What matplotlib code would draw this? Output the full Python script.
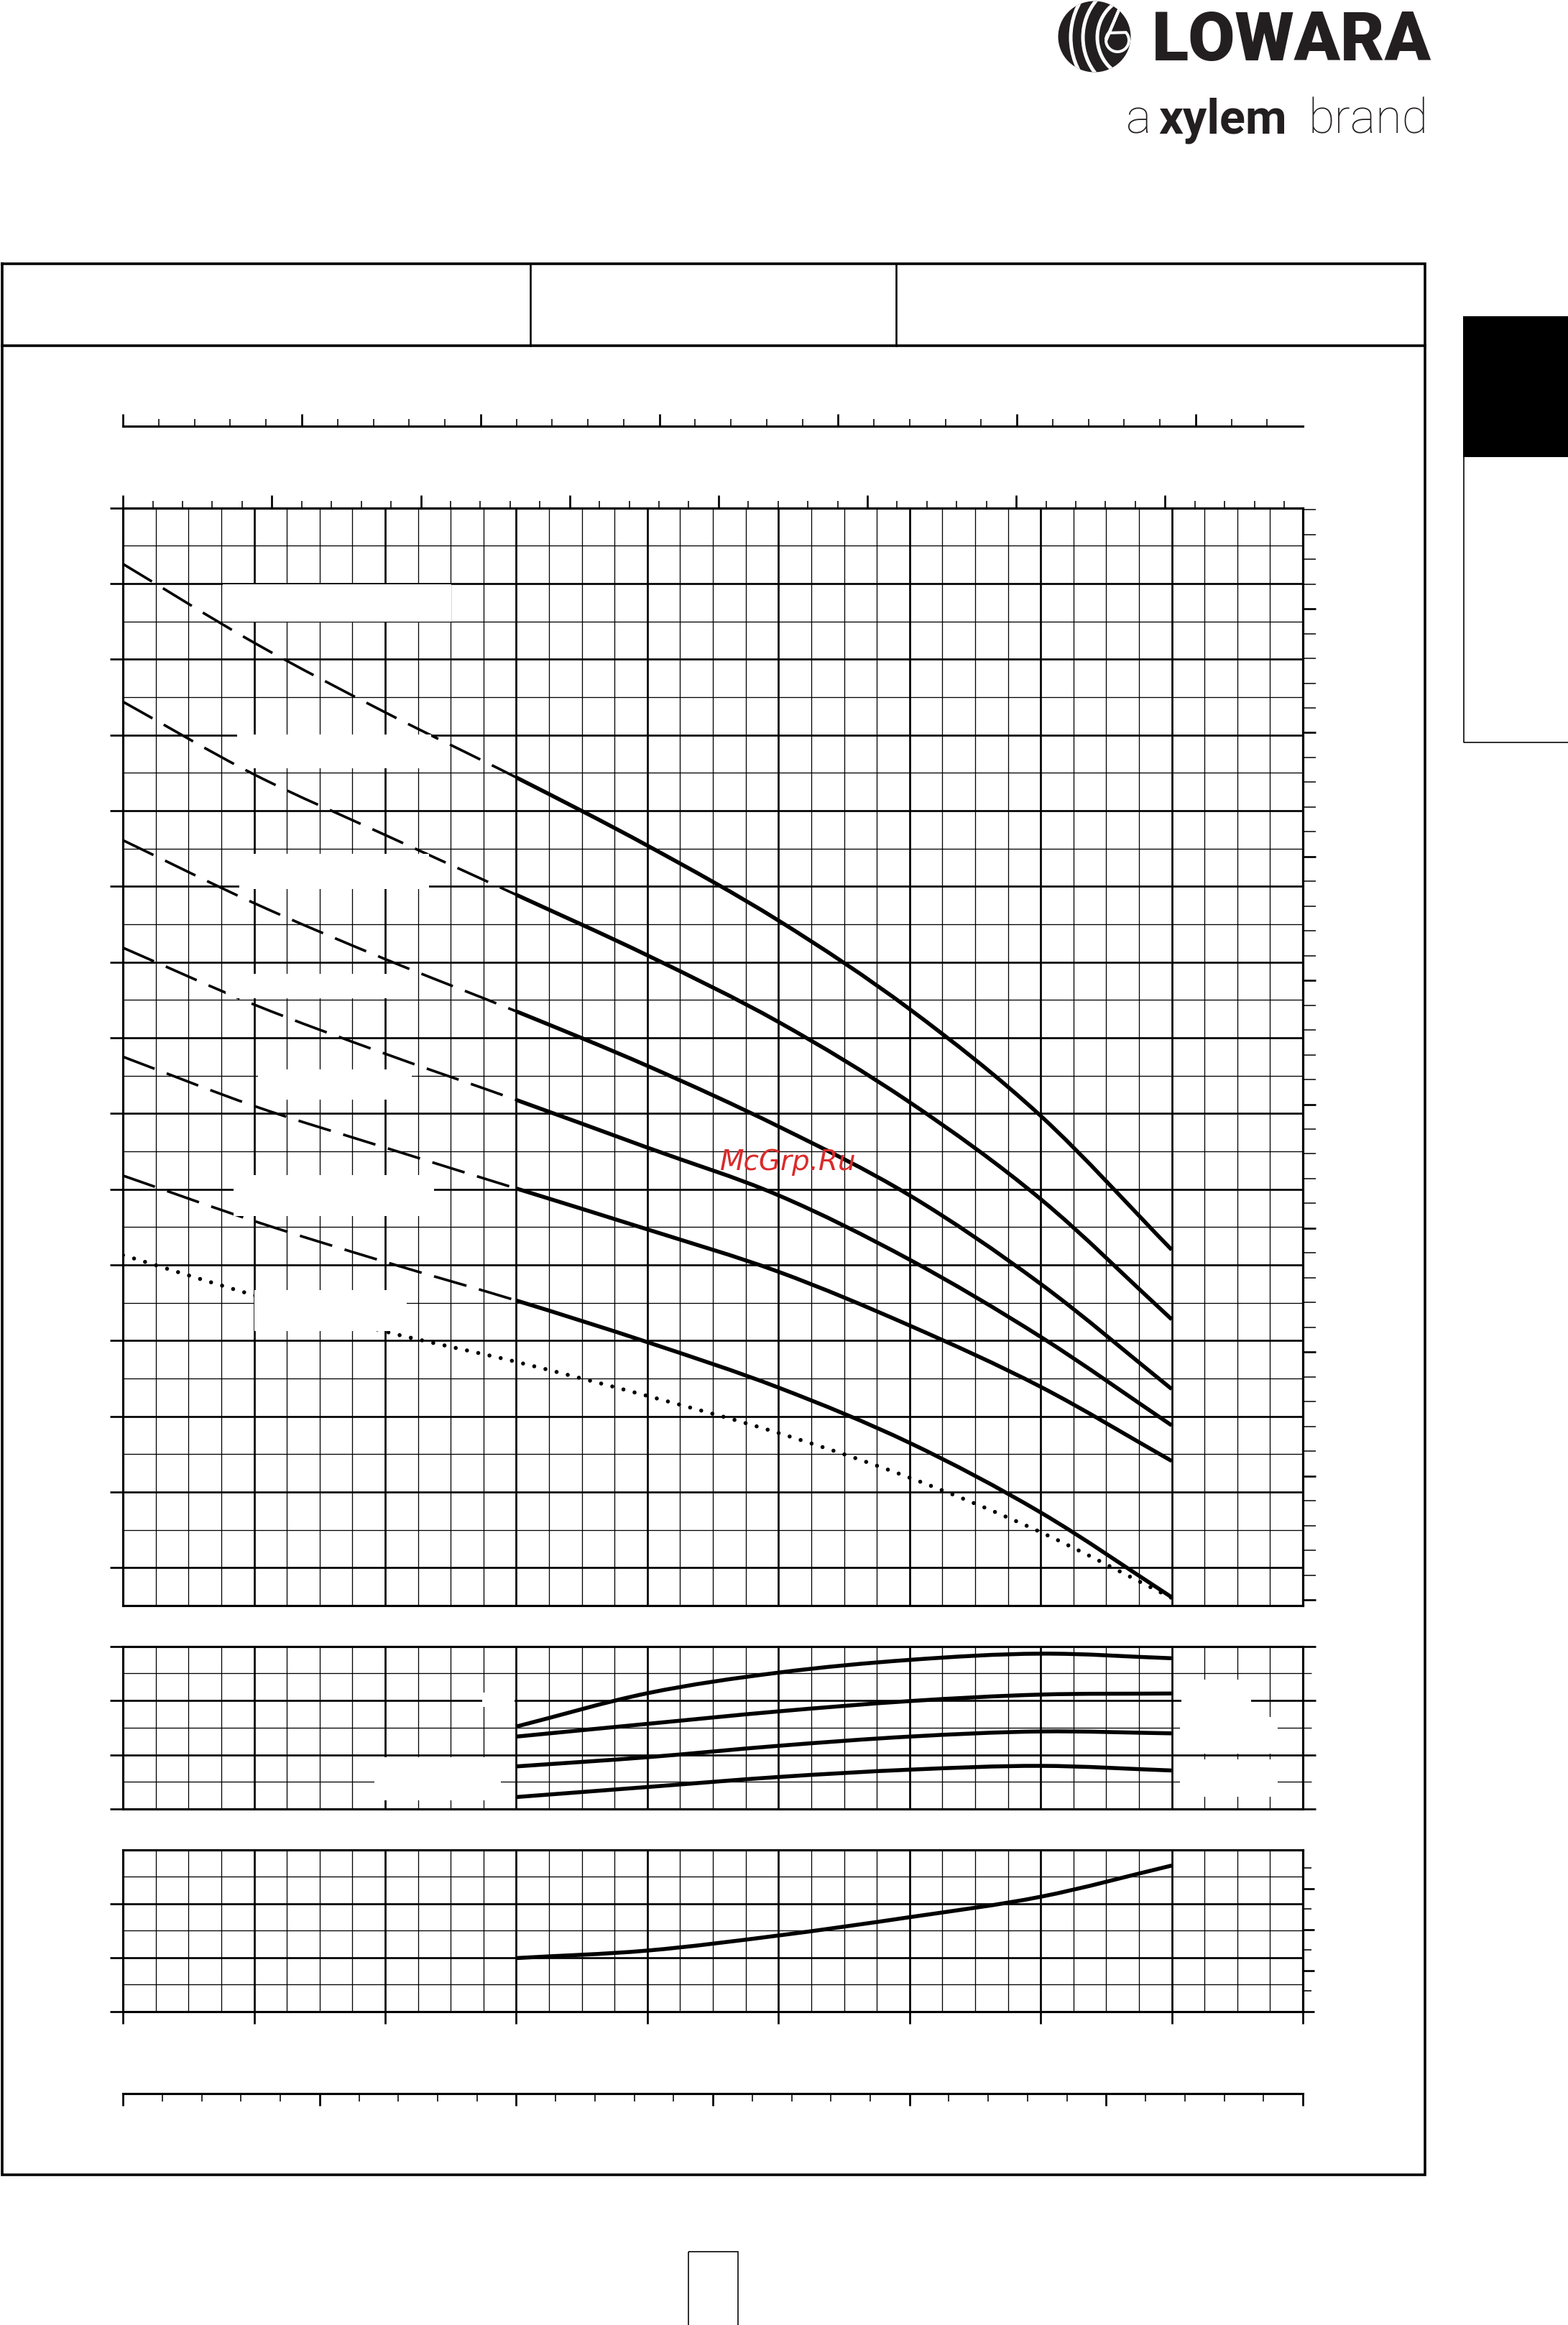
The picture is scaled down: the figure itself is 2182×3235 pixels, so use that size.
import numpy as np
import matplotlib
matplotlib.use("Agg")
import matplotlib.pyplot as plt
from matplotlib.patches import Rectangle, Ellipse, Arc, Polygon, PathPatch
from matplotlib.path import Path
from matplotlib.ticker import MultipleLocator, FixedLocator

W, H, DPI = 2182, 3235, 200
PX = 72 / DPI                      # one output pixel, in points
plt.rcParams["lines.scale_dashes"] = False

# ---------------------------------------------------------------------------
# data
# ---------------------------------------------------------------------------
Q = [0, 1, 2, 3, 4, 5, 6, 7, 8]          # flow, m3/h
SOLID_FROM = 3                           # index: curves are dashed left of Q=3

# head curves (ft), top to bottom
HEAD = [
    [137.6, 127.2, 118.0, 109.4, 100.4, 90.5, 78.8, 64.7, 47.0],
    [119.4, 109.8, 101.8, 93.9, 85.9, 77.1, 66.5, 53.7, 37.8],
    [101.1, 92.8, 85.4, 78.5, 71.3, 63.3, 54.2, 42.5, 28.6],
    [86.9, 79.4, 72.9, 66.8, 60.5, 54.2, 45.7, 35.5, 23.8],
    [72.5, 66.0, 60.5, 55.1, 49.7, 44.1, 37.0, 28.9, 19.1],
    [56.8, 50.8, 45.4, 40.3, 34.8, 28.8, 21.5, 12.3, 1.1],
]
NPSH = [46.3, 41.0, 36.2, 32.2, 27.7, 22.8, 16.9, 9.7, 1.0]   # dotted

Q_OP = [3, 4, 5, 6, 7, 8]
EFF = [
    [30.4, 42.7, 50.3, 55.0, 57.3, 55.6],
    [26.7, 31.4, 36.0, 39.8, 42.2, 42.6],
    [15.7, 19.1, 23.3, 26.7, 28.6, 27.9],
    [4.4, 8.1, 11.8, 14.5, 15.9, 14.2],
]
POWER = [0.99, 1.13, 1.41, 1.75, 2.13, 2.71]      # kW

# unit conversions of the secondary scales
M3H_PER_USGPM = 0.22712
M3H_PER_IMPGPM = 0.27277
M3H_PER_LMIN = 0.06
FT_PER_M, M_ZERO_FT = 3.273, 0.76
KW_PER_HP = 0.76

# white patches left where the curve labels were removed (data coords)
MAIN_MASKS = [(0.763, 2.504, 130.0, 134.9), (0.868, 2.349, 110.6, 115.1),
              (0.887, 2.332, 94.7, 99.3), (0.783, 2.192, 80.2, 83.5),
              (1.028, 2.203, 66.8, 70.8), (0.843, 2.373, 51.5, 56.9),
              (1.002, 2.164, 36.3, 41.7)]
EFF_MASKS = [(8.075, 8.605, 20.5, 47.6), (8.064, 8.807, 20.5, 34.0),
             (8.064, 8.807, 4.5, 18.2), (1.92, 2.88, 3.2, 19.1),
             (2.74, 2.985, 37.6, 42.9)]

# ---------------------------------------------------------------------------
# layout (output pixels)
# ---------------------------------------------------------------------------
AX_L, AX_R = 171.2, 1813.0
MAIN_T, MAIN_B = 706.8, 2234.0
EFF_T, EFF_B = 2290.7, 2517.0
POW_T, POW_B = 2574.0, 2798.6
IMP_Y, LMIN_Y = 593.5, 2913.0

THIN, THICK, SPINE = 1.3 * PX, 2.7 * PX, 3.1 * PX
CURVE_LW = 5.5 * PX

fig = plt.figure(figsize=(W / DPI, H / DPI), dpi=DPI)
fig.patch.set_facecolor("white")

# page furniture in pixel coordinates
page = fig.add_axes([0, 0, 1, 1])
page.set_xlim(0, W)
page.set_ylim(H, 0)
page.axis("off")
page.set_zorder(-1)

lw_frame = 3.6 * PX
page.plot([3, 1983, 1983, 3, 3], [367, 367, 3026, 3026, 367], color="k",
          lw=lw_frame, solid_joinstyle="miter")
page.plot([3, 1983], [481, 481], color="k", lw=lw_frame)
for xd in (737.5, 1247):
    page.plot([xd, xd], [367, 481], color="k", lw=2.6 * PX)
page.add_patch(Rectangle((2036, 440), W - 2036, 196, color="k", lw=0))
page.plot([2036.5, 2036.5, W], [636, 1033, 1033], color="k", lw=1.6 * PX)
page.add_patch(Rectangle((958, 3133), 69, 120, fill=False, ec="k", lw=1.6 * PX))

# logo mark
badge = Ellipse((1523, 51), 101, 99, color="#231f20", lw=0)
page.add_patch(badge)
for r in (91, 74, 54):
    a = Arc((1581, 52), 2 * r, 2 * r * 1.05, theta1=95, theta2=265,
            color="white", lw=5.0 * PX)
    page.add_patch(a)
    a.set_clip_path(badge)
t = np.linspace(0, 2 * np.pi, 60)
drop = [(1555 + 16 * np.cos(a), 56 + 16 * np.sin(a)) for a in t
        if not (np.pi * 1.25 < a < np.pi * 1.75)]
drop = drop[:len(drop) // 2 + 8] + [(1557, 14)] + drop[len(drop) // 2 + 8:]
page.add_patch(Polygon(drop, closed=True, fc="#231f20", ec="white", lw=4 * PX))

fig.text(1603 / W, 1 - 84 / H, "LOWARA", fontsize=34, family="Roboto",
         weight="black", color="#231f20", ha="left", va="baseline")
for txt, x0, wt in (("a", 1567, "light"), ("xylem", 1612, "bold"),
                    ("brand", 1820, "light")):
    fig.text(x0 / W, 1 - 185 / H, txt, fontsize=24, family="Roboto",
             weight=wt, color="#231f20", ha="left", va="baseline")


def add_panel(top, bottom):
    ax = fig.add_axes([AX_L / W, 1 - bottom / H, (AX_R - AX_L) / W,
                       (bottom - top) / H])
    ax.set_xlim(0, 9)
    ax.xaxis.set_major_locator(MultipleLocator(1))
    ax.xaxis.set_minor_locator(MultipleLocator(0.25))
    ax.grid(which="major", color="k", lw=THICK)
    ax.grid(which="minor", color="k", lw=THIN)
    ax.set_axisbelow(True)
    for s in ax.spines.values():
        s.set_linewidth(SPINE)
    ax.tick_params(axis="x", which="both", bottom=False, top=False,
                   labelbottom=False)
    ax.tick_params(axis="y", which="both", labelleft=False)
    return ax


def mask(ax, boxes):
    for x0, x1, y0, y1 in boxes:
        ax.add_patch(Rectangle((x0, y0), x1 - x0, y1 - y0, fc="white",
                               ec="none", zorder=3))


def plain_ticks(axis_obj, maj_len, min_len, maj_w=THICK, min_w=THIN):
    axis_obj.tick_params(which="major", direction="out", length=maj_len * PX,
                         width=maj_w)
    axis_obj.tick_params(which="minor", direction="out", length=min_len * PX,
                         width=min_w)


def curve(ax, xs, ys, i0=0, i1=None, **kw):
    """Smooth line through the read points xs[i0..i1] (cubic Bezier segments
    whose tangents follow the neighbouring points), drawn in data coords."""
    p = np.column_stack([xs, ys]).astype(float)
    ext = np.vstack([2 * p[0] - p[1], p, 2 * p[-1] - p[-2]])
    i1 = len(p) - 1 if i1 is None else i1
    verts, codes = [p[i0]], [Path.MOVETO]
    for i in range(i0, i1):
        a, b, c, d = ext[i], ext[i + 1], ext[i + 2], ext[i + 3]
        verts += [b + (c - a) / 6, c - (d - b) / 6, c]
        codes += [Path.CURVE4] * 3
    patch = PathPatch(Path(verts, codes), fill=False, ec="k", **kw)
    ax.add_patch(patch)
    return patch


# ---- head panel --------------------------------------------------------------
ax = add_panel(MAIN_T, MAIN_B)
ax.set_ylim(0, 145)
ax.yaxis.set_major_locator(FixedLocator(np.arange(5, 146, 10)))
ax.yaxis.set_minor_locator(FixedLocator(np.arange(0, 141, 10)))
ax.tick_params(axis="y", which="major", left=True, right=False,
               direction="out", length=18 * PX, width=THICK)
ax.tick_params(axis="y", which="minor", left=False, right=False)

for h in HEAD:
    curve(ax, Q, h, 0, SOLID_FROM, lw=3.6 * PX,
          linestyle=(0, (47 * PX, 18 * PX)), capstyle="butt")
    curve(ax, Q, h, SOLID_FROM, None, lw=CURVE_LW, capstyle="butt")
curve(ax, Q, NPSH, lw=5.6 * PX, linestyle=(0, (0.01, 16 * PX)),
      capstyle="round")
mask(ax, MAIN_MASKS)

gpm = ax.secondary_xaxis("top", functions=(lambda q: q / M3H_PER_USGPM,
                                           lambda g: g * M3H_PER_USGPM))
gpm.xaxis.set_major_locator(MultipleLocator(5))
gpm.xaxis.set_minor_locator(MultipleLocator(1))
plain_ticks(gpm, 18, 10, min_w=1.6 * PX)
gpm.tick_params(labeltop=False)
gpm.spines["top"].set_linewidth(SPINE)

imp_loc = 1 + (MAIN_T - IMP_Y) / (MAIN_B - MAIN_T)
imp = ax.secondary_xaxis(imp_loc, functions=(lambda q: q / M3H_PER_IMPGPM,
                                             lambda g: g * M3H_PER_IMPGPM))
imp.xaxis.set_major_locator(MultipleLocator(5))
imp.xaxis.set_minor_locator(MultipleLocator(1))
plain_ticks(imp, 17, 10.5, min_w=1.6 * PX)
imp.tick_params(labeltop=False, labelbottom=False)
for s in imp.spines.values():
    s.set_linewidth(SPINE)

hm = ax.secondary_yaxis("right", functions=(
    lambda ft: (ft - M_ZERO_FT) / FT_PER_M,
    lambda m: m * FT_PER_M + M_ZERO_FT))
hm.yaxis.set_major_locator(MultipleLocator(5))
hm.yaxis.set_minor_locator(MultipleLocator(1))
plain_ticks(hm, 18, 18, min_w=1.5 * PX)
hm.tick_params(labelright=False)
hm.spines["right"].set_linewidth(SPINE)

# ---- efficiency panel ------------------------------------------------------
ax_e = add_panel(EFF_T, EFF_B)
ax_e.set_ylim(0, 60)
ax_e.yaxis.set_major_locator(MultipleLocator(20))
ax_e.yaxis.set_minor_locator(MultipleLocator(10))
ax_e.tick_params(axis="y", which="major", left=True, right=True,
                 direction="out", length=18 * PX, width=THICK)
ax_e.tick_params(axis="y", which="minor", left=False, right=True,
                 direction="out", length=12 * PX, width=THIN)
for e in EFF:
    curve(ax_e, Q_OP, e, lw=CURVE_LW, capstyle="butt")
mask(ax_e, EFF_MASKS)

# ---- power panel ------------------------------------------------------------
ax_p = add_panel(POW_T, POW_B)
ax_p.set_ylim(0, 3)
ax_p.yaxis.set_major_locator(FixedLocator([0, 1, 2]))
ax_p.yaxis.set_minor_locator(MultipleLocator(0.5))
ax_p.tick_params(axis="y", which="major", left=True, right=False,
                 direction="out", length=18 * PX, width=THICK)
ax_p.tick_params(axis="y", which="minor", left=False, right=False)
ax_p.tick_params(axis="x", which="major", bottom=True, direction="out",
                 length=17 * PX, width=THICK)
curve(ax_p, Q_OP, POWER, lw=CURVE_LW, capstyle="butt")

hp = ax_p.secondary_yaxis("right", functions=(lambda p: p / KW_PER_HP,
                                              lambda h: h * KW_PER_HP))
hp.yaxis.set_major_locator(MultipleLocator(1))
hp.yaxis.set_minor_locator(MultipleLocator(0.5))
plain_ticks(hp, 16, 12, min_w=1.6 * PX)
hp.tick_params(labelright=False)
hp.spines["right"].set_linewidth(SPINE)

lmin_loc = -(LMIN_Y - POW_B) / (POW_B - POW_T)
lmin = ax_p.secondary_xaxis(lmin_loc, functions=(lambda q: q / M3H_PER_LMIN,
                                                 lambda l: l * M3H_PER_LMIN))
lmin.xaxis.set_major_locator(MultipleLocator(25))
lmin.xaxis.set_minor_locator(MultipleLocator(5))
plain_ticks(lmin, 17, 11, min_w=1.6 * PX)
lmin.tick_params(labelbottom=False, labeltop=False)
for s in lmin.spines.values():
    s.set_linewidth(SPINE)

fig.text(1097 / W, 1 - 1617 / H, "McGrp.Ru", color="#d92b2b", fontsize=14,
         style="italic", ha="center", va="center")

fig.savefig("out.png", dpi=DPI, facecolor="white")
